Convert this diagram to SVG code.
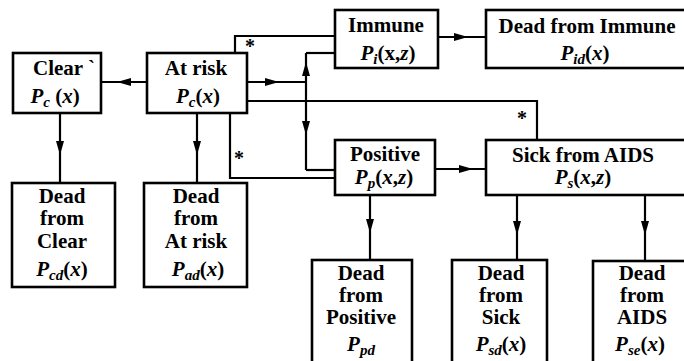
<svg xmlns="http://www.w3.org/2000/svg" width="684" height="361" viewBox="0 0 684 361">
<style>
  .box { fill: #fff; stroke: #000; stroke-width: 2.6; }
  .t { font-family: "Liberation Serif", "Times New Roman", serif; font-weight: bold; font-size: 21px; fill: #000; text-anchor: middle; }
  .i { font-style: italic; }
  .s { font-style: italic; font-size: 15px; }
  .ln { fill: none; stroke: #000; stroke-width: 2.2; }
  .ar { fill: none; stroke: #000; stroke-width: 2.2; marker-mid: url(#ah); }
  .ast { font-family: "Liberation Serif", serif; font-weight: bold; font-size: 20px; text-anchor: middle; fill: #000; }
</style>
<defs>
  <marker id="ah" viewBox="0 0 14 8" refX="7" refY="4" markerWidth="14" markerHeight="8" markerUnits="userSpaceOnUse" orient="auto">
    <path d="M0,0 L14,4 L0,8 z" fill="#000"/>
  </marker>
</defs>
<rect width="684" height="361" fill="#fff"/>
<g id="connectors">
  <path class="ar" d="M147,82 L124,82 L101,82"/>
  <path class="ar" d="M60,113 L60,148 L60,183"/>
  <path class="ar" d="M197,113 L197,148 L197,183"/>
  <path class="ln" d="M235,53 L235,36 L335,36"/>
  <path class="ar" d="M247,82 L272,82 L306,82"/>
  <path class="ar" d="M306,82 L306,69 L306,53"/>
  <path class="ln" d="M306,53 L335,53"/>
  <path class="ar" d="M306,82 L306,128 L306,170"/>
  <path class="ln" d="M306,170 L335,170"/>
  <path class="ln" d="M230,113 L230,178 L335,178"/>
  <path class="ln" d="M247,101 L537,101 L537,140"/>
  <path class="ar" d="M438,37 L461,37 L486,37"/>
  <path class="ar" d="M435,169 L466,169 L486,169"/>
  <path class="ar" d="M370,195 L370,226 L370,260"/>
  <path class="ar" d="M517,195 L517,228 L517,260"/>
  <path class="ar" d="M645,195 L645,228 L645,261"/>
  <text class="ast" x="250" y="53">*</text>
  <text class="ast" x="239" y="165">*</text>
  <text class="ast" x="522" y="125">*</text>
</g>
<g id="clear">
  <rect class="box" x="13" y="53" width="88" height="60"/>
  <text class="t" x="33" y="75" style="text-anchor:start">Clear `</text>
  <text class="t" x="55" y="103"><tspan class="i">P</tspan><tspan class="s" dy="4">c</tspan><tspan dy="-4"> (</tspan><tspan class="i">x</tspan>)</text>
</g>
<g id="atrisk">
  <rect class="box" x="147" y="53" width="100" height="60"/>
  <text class="t" x="196" y="75">At risk</text>
  <text class="t" x="198" y="103"><tspan class="i">P</tspan><tspan class="s" dy="4">c</tspan><tspan dy="-4">(</tspan><tspan class="i">x</tspan>)</text>
</g>
<g id="immune">
  <rect class="box" x="335" y="10" width="103" height="58"/>
  <text class="t" x="386" y="32">Immune</text>
  <text class="t" x="388" y="60"><tspan class="i">P</tspan><tspan class="s" dy="4">i</tspan><tspan dy="-4">(x,</tspan><tspan class="i">z</tspan>)</text>
</g>
<g id="deadimmune">
  <rect class="box" x="486" y="10" width="210" height="58"/>
  <text class="t" x="587" y="33">Dead from Immune</text>
  <text class="t" x="585" y="60"><tspan class="i">P</tspan><tspan class="s" dy="4">id</tspan><tspan dy="-4">(</tspan><tspan class="i">x</tspan>)</text>
</g>
<g id="positive">
  <rect class="box" x="335" y="140" width="100" height="55"/>
  <text class="t" x="385" y="161">Positive</text>
  <text class="t" x="384" y="184"><tspan class="i">P</tspan><tspan class="s" dy="4">p</tspan><tspan dy="-4">(</tspan><tspan class="i">x</tspan>,<tspan class="i">z</tspan>)</text>
</g>
<g id="sick">
  <rect class="box" x="486" y="140" width="210" height="55"/>
  <text class="t" x="583" y="162">Sick from AIDS</text>
  <text class="t" x="583" y="184"><tspan class="i">P</tspan><tspan class="s" dy="4">s</tspan><tspan dy="-4">(</tspan><tspan class="i">x</tspan>,<tspan class="i">z</tspan>)</text>
</g>
<g id="deadclear">
  <rect class="box" x="12" y="183" width="103" height="104"/>
  <text class="t" x="62" y="203">Dead</text>
  <text class="t" x="62" y="225">from</text>
  <text class="t" x="62" y="248">Clear</text>
  <text class="t" x="62" y="276"><tspan class="i">P</tspan><tspan class="s" dy="4">cd</tspan><tspan dy="-4">(</tspan><tspan class="i">x</tspan>)</text>
</g>
<g id="deadatrisk">
  <rect class="box" x="144" y="183" width="103" height="104"/>
  <text class="t" x="196" y="203">Dead</text>
  <text class="t" x="196" y="225">from</text>
  <text class="t" x="196" y="248">At risk</text>
  <text class="t" x="198" y="276"><tspan class="i">P</tspan><tspan class="s" dy="4">ad</tspan><tspan dy="-4">(</tspan><tspan class="i">x</tspan>)</text>
</g>
<g id="deadpositive">
  <rect class="box" x="312" y="260" width="100" height="110"/>
  <text class="t" x="361" y="280">Dead</text>
  <text class="t" x="361" y="302">from</text>
  <text class="t" x="361" y="324">Positive</text>
  <text class="t" x="361" y="351"><tspan class="i">P</tspan><tspan class="s" dy="4">pd</tspan></text>
</g>
<g id="deadsick">
  <rect class="box" x="452" y="260" width="95" height="110"/>
  <text class="t" x="501" y="280">Dead</text>
  <text class="t" x="501" y="302">from</text>
  <text class="t" x="501" y="324">Sick</text>
  <text class="t" x="501" y="351"><tspan class="i">P</tspan><tspan class="s" dy="4">sd</tspan><tspan dy="-4">(</tspan><tspan class="i">x</tspan>)</text>
</g>
<g id="deadaids">
  <rect class="box" x="593" y="261" width="100" height="110"/>
  <text class="t" x="642" y="280">Dead</text>
  <text class="t" x="642" y="302">from</text>
  <text class="t" x="642" y="324">AIDS</text>
  <text class="t" x="640" y="351"><tspan class="i">P</tspan><tspan class="s" dy="4">se</tspan><tspan dy="-4">(</tspan><tspan class="i">x</tspan>)</text>
</g>
</svg>
